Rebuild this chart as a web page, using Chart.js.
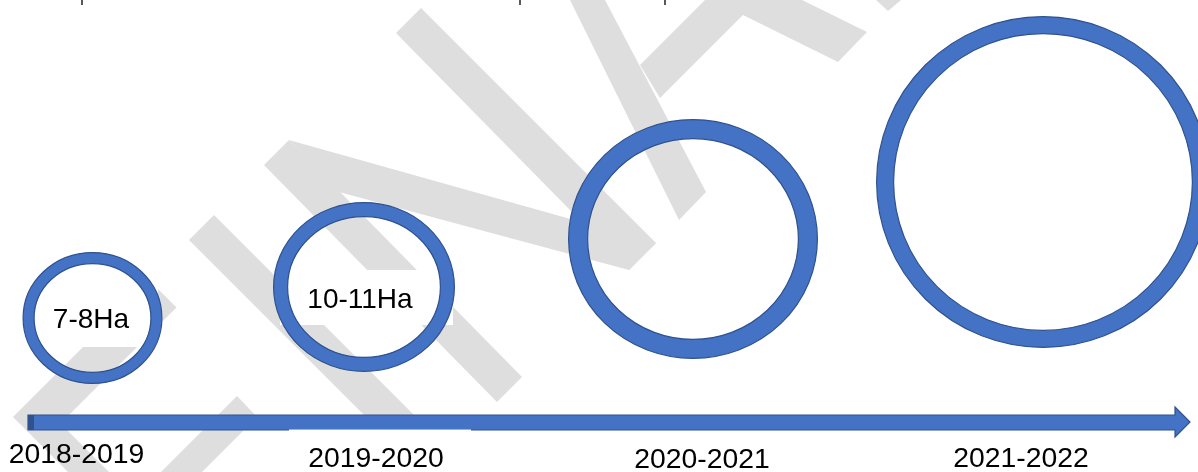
<!DOCTYPE html>
<html>
<head>
<meta charset="utf-8">
<script src="https://cdn.jsdelivr.net/npm/chart.js@4.4.1/dist/chart.umd.min.js"></script>
<style>
  html, body { margin: 0; padding: 0; background: #ffffff; overflow: hidden; }
  #wrap { width: 1198px; height: 472px; position: relative; }
</style>
</head>
<body>
<div id="wrap"><canvas id="c"></canvas></div>
<script>
// ---- data (values on the chart's own x / y value scales) ----
const periods       = ['2018-2019', '2019-2020', '2020-2021', '2021-2022'];
const areaLabels    = ['7-8Ha', '10-11Ha', '', ''];
const circleCenterX = [92.5, 364, 693, 1043];
const circleCenterY = [154, 185, 233, 290];
const circleWidth   = [140, 182, 250, 334];
const circleHeight  = [132, 170, 240, 332];
const periodLabelX  = [76.5, 376, 702, 1021];
const periodLabelY  = [9, 5, 4, 5];
const areaLabelX    = [91, 360];
const areaLabelY    = [144, 164];

// ---- styles / decoration ----
const ringStyle = { fill: '#4472c4', edge: '#2f528f', thickness: [11, 14, 19, 17] };
const watermarkColor = '#dedede';
const watermark = [
  [[396,33],[421,8],[656,243],[629,270]],
  [[289,140],[656,243],[629,270],[339,192]],
  [[264,165],[289,140],[522,377],[497,402]],
  [[189,240],[214,215],[419,420],[369,420]],
  [[570,0],[605,0],[706,192],[679,220]],
  [[640,65],[705,0],[802,0],[867,32],[838,62],[743,15],[660,98]],
  [[876,0],[901,0],[888,11]],
  [[13,417],[149.5,280.5],[176.5,307.5],[60.5,423.5],[109,472],[68,472]],
  [[237,396],[257,417],[202,472],[161,472]]
];
const maskBoxes = [[30,262,128,85],[280,270,173,55]];
const labelMask = [289, 429.5, 182, 43];
const topMarks = [82, 520, 665];

const infographic = {
  id: 'infographic',
  beforeDraw(chart) {
    const ctx = chart.ctx;
    ctx.save();
    ctx.fillStyle = '#ffffff';
    ctx.fillRect(0, 0, chart.width, chart.height);
    ctx.restore();
  },
  afterDatasetsDraw(chart) {
    const ctx = chart.ctx;
    const xs = chart.scales.x, ys = chart.scales.y;
    ctx.save();
    // watermark
    ctx.fillStyle = watermarkColor;
    watermark.forEach(poly => {
      ctx.beginPath();
      poly.forEach((p, i) => i ? ctx.lineTo(p[0], p[1]) : ctx.moveTo(p[0], p[1]));
      ctx.closePath();
      ctx.fill();
    });
    // text boxes inside rings
    ctx.fillStyle = '#ffffff';
    maskBoxes.forEach(b => ctx.fillRect(b[0], b[1], b[2], b[3]));
    // descender remnants of cut-off text at the top
    ctx.strokeStyle = '#222';
    ctx.lineWidth = 1.5;
    topMarks.forEach(x => { ctx.beginPath(); ctx.moveTo(x, 0); ctx.lineTo(x, 5); ctx.stroke(); });

    // timeline arrow along the bottom
    const a = chart.chartArea;
    const x0 = a.left + 28, x1 = a.right - 8, head = 15;
    const yt = 415, yb = 430, hy0 = 407, hy1 = 437, ym = 422;
    ctx.beginPath();
    ctx.moveTo(x0, yt); ctx.lineTo(x1 - head, yt); ctx.lineTo(x1 - head, hy0);
    ctx.lineTo(x1, ym); ctx.lineTo(x1 - head, hy1); ctx.lineTo(x1 - head, yb);
    ctx.lineTo(x0, yb); ctx.closePath();
    ctx.fillStyle = ringStyle.fill; ctx.fill();
    ctx.lineWidth = 1.2; ctx.strokeStyle = ringStyle.edge; ctx.stroke();
    ctx.fillStyle = ringStyle.edge;
    ctx.fillRect(x0, yt, 6, yb - yt);
    ctx.fillStyle = '#ffffff';
    ctx.fillRect(labelMask[0], labelMask[1], labelMask[2], labelMask[3]);

    // rings
    const meta = chart.getDatasetMeta(0);
    meta.data.forEach((pt, i) => {
      const cx = pt.x, cy = pt.y;
      const rx = Math.abs(xs.getPixelForValue(circleCenterX[i] + circleWidth[i] / 2) - cx) - 0.6;
      const ry = Math.abs(ys.getPixelForValue(circleCenterY[i] + circleHeight[i] / 2) - cy) - 0.6;
      const t = ringStyle.thickness[i];
      ctx.beginPath();
      ctx.ellipse(cx, cy, rx, ry, 0, 0, Math.PI * 2);
      ctx.moveTo(cx + rx - t, cy);
      ctx.ellipse(cx, cy, rx - t, ry - t, 0, 0, Math.PI * 2, true);
      ctx.fillStyle = ringStyle.fill;
      ctx.fill('evenodd');
      ctx.lineWidth = 1.2;
      ctx.strokeStyle = ringStyle.edge;
      ctx.stroke();
    });

    // area labels inside rings
    ctx.fillStyle = '#000000';
    ctx.textAlign = 'center';
    ctx.textBaseline = 'alphabetic';
    ctx.font = '28px "Liberation Sans", Arial, sans-serif';
    areaLabels.forEach((t, i) => {
      if (!t) return;
      ctx.fillText(t, xs.getPixelForValue(areaLabelX[i]), ys.getPixelForValue(areaLabelY[i]));
    });
    // period labels under the arrow
    ctx.font = '27px "Liberation Sans", Arial, sans-serif';
    periods.forEach((t, i) => {
      ctx.save();
      ctx.translate(xs.getPixelForValue(periodLabelX[i]), ys.getPixelForValue(periodLabelY[i]));
      ctx.scale(1.05, 1);
      ctx.fillText(t, 0, 0);
      ctx.restore();
    });
    ctx.restore();
  }
};

new Chart(document.getElementById('c'), {
  type: 'scatter',
  data: {
    datasets: [{
      label: 'Area',
      data: circleCenterX.map((x, i) => ({ x, y: circleCenterY[i] })),
      pointRadius: 0,
      pointHoverRadius: 0
    }]
  },
  options: {
    responsive: true,
    maintainAspectRatio: false,
    devicePixelRatio: 1,
    animation: false,
    events: [],
    layout: { padding: 0 },
    plugins: { legend: { display: false }, tooltip: { enabled: false }, title: { display: false } },
    scales: {
      x: { type: 'linear', min: 0, max: 1198, display: false },
      y: { type: 'linear', min: 0, max: 472, display: false }
    }
  },
  plugins: [infographic]
});
</script>
</body>
</html>
